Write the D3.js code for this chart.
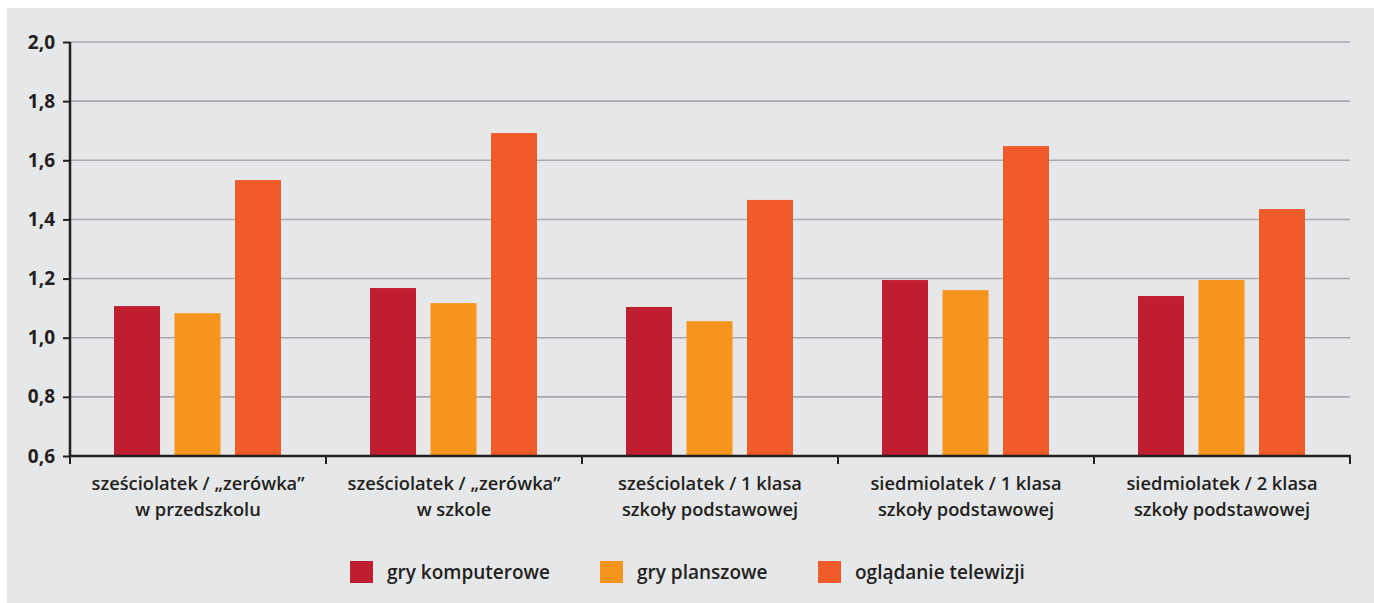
<!DOCTYPE html>
<html>
<head>
<meta charset="utf-8">
<script src="https://cdn.jsdelivr.net/npm/d3@7"></script>
<style>
  html, body { margin: 0; padding: 0; background: #ffffff; }
  svg { display: block; }
  text { font-family: "Open Sans", "Noto Sans", sans-serif; fill: #231f20; }
</style>
</head>
<body>
<svg id="chart" width="1374" height="603"></svg>
<script>
const categories = [
  ["sześciolatek / „zerówka”", "w przedszkolu"],
  ["sześciolatek / „zerówka”", "w szkole"],
  ["sześciolatek / 1 klasa", "szkoły podstawowej"],
  ["siedmiolatek / 1 klasa", "szkoły podstawowej"],
  ["siedmiolatek / 2 klasa", "szkoły podstawowej"]
];
const seriesNames = ["gry komputerowe", "gry planszowe", "oglądanie telewizji"];
const seriesColors = ["#be1e2d", "#f7941d", "#f15a29"];
const gryKomputerowe = [1.107, 1.168, 1.104, 1.195, 1.141];
const gryPlanszowe = [1.083, 1.117, 1.056, 1.161, 1.195];
const ogladanieTelewizji = [1.533, 1.692, 1.466, 1.648, 1.435];
const yTicks = [0.6, 0.8, 1.0, 1.2, 1.4, 1.6, 1.8, 2.0];
const tickLabels = ["0,6", "0,8", "1,0", "1,2", "1,4", "1,6", "1,8", "2,0"];

const series = [gryKomputerowe, gryPlanszowe, ogladanieTelewizji];

const svg = d3.select("#chart");
svg.append("rect").attr("x", 7).attr("y", 8).attr("width", 1367).attr("height", 595).attr("fill", "#e6e7e9");

const mLeft = 70, mRight = 1350, mTop = 42, mBottom = 456;
const x = d3.scaleBand().domain(d3.range(categories.length)).range([mLeft, mRight]).paddingInner(0).paddingOuter(0);
const x1 = d3.scaleBand().domain(d3.range(series.length)).range([44, 211]).paddingInner(0.24).paddingOuter(0);
const y = d3.scaleLinear().domain([0.6, 2.0]).range([mBottom, mTop]);

// grid
svg.append("g").selectAll("line").data(yTicks.filter(t => t > 0.6)).join("line")
  .attr("x1", mLeft).attr("x2", mRight)
  .attr("y1", d => y(d)).attr("y2", d => y(d))
  .attr("stroke", "#a7a9ac").attr("stroke-width", 1.6);

// bars
const g = svg.append("g");
categories.forEach((c, i) => {
  series.forEach((s, j) => {
    g.append("rect")
      .attr("x", x(i) + x1(j))
      .attr("width", x1.bandwidth())
      .attr("y", y(s[i]))
      .attr("height", y(0.6) - y(s[i]))
      .attr("fill", seriesColors[j]);
  });
});

// y axis
const yAxis = d3.axisLeft(y).tickValues(yTicks).tickFormat((d, i) => tickLabels[i]).tickSize(7).tickPadding(8);
const ya = svg.append("g").attr("transform", `translate(${mLeft},0)`).call(yAxis);
ya.select(".domain").attr("stroke", "#231f20").attr("stroke-width", 2.5).attr("d", `M0,${mTop}V${mBottom}`);
ya.selectAll(".tick line").attr("stroke", "#231f20").attr("stroke-width", 2);
ya.selectAll(".tick text").attr("font-size", 19).attr("font-weight", 700).attr("font-family", "'Open Sans', sans-serif").attr("fill", "#231f20");

// x axis
const xBounds = d3.range(categories.length + 1).map(i => i === categories.length ? mRight : x(i));
const xa = svg.append("g");
xa.append("line").attr("x1", mLeft - 1).attr("x2", mRight + 1).attr("y1", mBottom).attr("y2", mBottom)
  .attr("stroke", "#231f20").attr("stroke-width", 2.5);
xa.selectAll("line.t").data(xBounds).join("line").attr("class", "t")
  .attr("x1", d => d).attr("x2", d => d).attr("y1", mBottom).attr("y2", mBottom + 8)
  .attr("stroke", "#231f20").attr("stroke-width", 2);

categories.forEach((c, i) => {
  const t = svg.append("text").attr("text-anchor", "middle")
    .attr("font-size", 18.3).attr("font-weight", 600);
  c.forEach((line, k) => {
    t.append("tspan").attr("x", x(i) + x.bandwidth() / 2).attr("y", 490 + k * 26).text(line);
  });
});

// legend
const legendX = [350, 600, 818];
seriesNames.forEach((n, j) => {
  svg.append("rect").attr("x", legendX[j]).attr("y", 561).attr("width", 23).attr("height", 22).attr("fill", seriesColors[j]);
  svg.append("text").attr("x", legendX[j] + 37).attr("y", 579).attr("font-size", 19).attr("font-weight", 600).text(n);
});
</script>
</body>
</html>
